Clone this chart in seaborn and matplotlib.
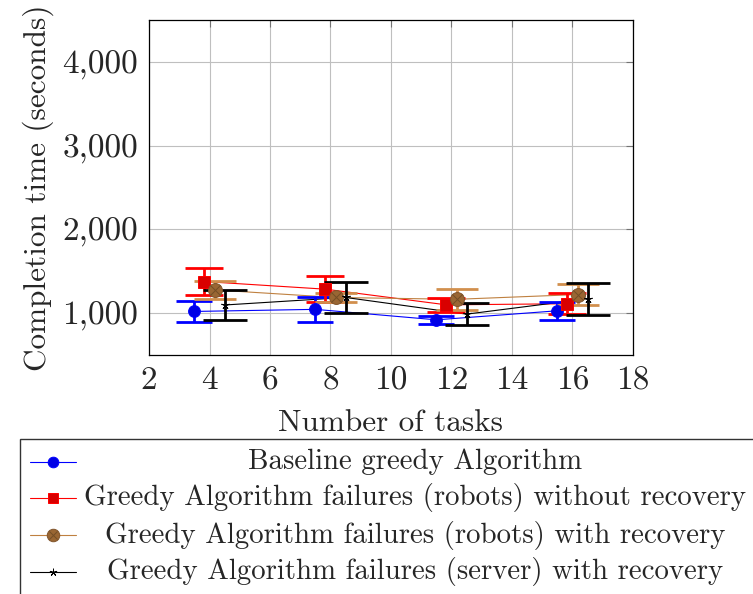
import numpy as np
import pandas as pd
import matplotlib
matplotlib.use("Agg")
import matplotlib.pyplot as plt
import seaborn as sns
from matplotlib.lines import Line2D
from matplotlib.patches import Rectangle

# ---- data ----
tasks = [4, 8, 12, 16]
series_names = [
    "Baseline greedy Algorithm",
    "Greedy Algorithm failures (robots) without recovery",
    "Greedy Algorithm failures (robots) with recovery",
    "Greedy Algorithm failures (server) with recovery",
]
baseline_mean = [1020, 1045, 920, 1028]
baseline_err = [130, 145, 50, 107]
norec_mean = [1377, 1286, 1099, 1112]
norec_err = [160, 155, 80, 125]
robrec_mean = [1277, 1187, 1165, 1222]
robrec_err = [110, 52, 123, 125]
server_mean = [1097, 1187, 988, 1172]
server_err = [177, 180, 127, 193]
x_ticks = [2, 4, 6, 8, 10, 12, 14, 16, 18]
y_ticks = [1000, 2000, 3000, 4000]
y_tick_labels = ["1,000", "2,000", "3,000", "4,000"]

# ---- style ----
sns.set_theme(style="white")
plt.rcParams["font.family"] = ["serif"]
plt.rcParams["font.serif"] = ["cmr10"]
plt.rcParams["mathtext.fontset"] = "cm"
plt.rcParams["axes.formatter.use_mathtext"] = True
FS_LABEL = 22.5
FS_TICK = 24
FS_LEG = 20.8

W, H = 753, 594
fig = plt.figure(figsize=(W / 100, H / 100), dpi=100)
ax = fig.add_axes([149 / W, 1 - 355 / H, (633 - 149) / W, (355 - 20) / H])

brown = (0.75, 0.5, 0.25)
brown_bar = (0.82, 0.56, 0.30)
specs = [
    dict(mean=baseline_mean, err=baseline_err, off=-0.5, color=(0, 0, 1), bar=(0, 0, 1),
         marker="o", ms=8.5, mfc=(0, 0, 0.9), mec=(0, 0, 1), cap=13),
    dict(mean=norec_mean, err=norec_err, off=-0.17, color=(1, 0, 0), bar=(1, 0, 0),
         marker="s", ms=8.5, mfc=(0.85, 0, 0), mec=(1, 0, 0), cap=13.5),
    dict(mean=robrec_mean, err=robrec_err, off=0.17, color=brown, bar=brown_bar,
         marker="o", ms=10, mfc=(0.6, 0.4, 0.2), mec=(0.5, 0.33, 0.17), cap=15),
    dict(mean=server_mean, err=server_err, off=0.5, color="black", bar="black",
         marker=(5, 2, 0), ms=6, mfc="black", mec="black", cap=15.5),
]

for name, s in zip(series_names, specs):
    xs = [t + s["off"] for t in tasks]
    df = pd.DataFrame({"x": xs, "y": s["mean"]})
    sns.lineplot(data=df, x="x", y="y", ax=ax, color=s["color"], lw=0.8,
                 marker=None, zorder=3)
    ax.errorbar(xs, s["mean"], yerr=s["err"], fmt="none", ecolor=s["bar"],
                elinewidth=2.0, capsize=s["cap"], capthick=2.0, zorder=4)
    ax.plot(xs, s["mean"], ls="none", marker=s["marker"], ms=s["ms"],
            mfc=s["mfc"], mec=s["mec"], mew=0.7, zorder=5)
    if name == series_names[2]:
        ax.plot(xs, s["mean"], ls="none", marker="x", ms=6.5, mec=(0.45, 0.3, 0.15),
                mew=0.7, zorder=6)

ax.set_xlim(2, 18)
ax.set_ylim(500, 4500)
ax.set_xticks(x_ticks)
ax.set_xticklabels([str(v) for v in x_ticks], fontsize=FS_TICK)
ax.set_yticks(y_ticks)
ax.set_yticklabels(y_tick_labels, fontsize=FS_TICK)
ax.grid(True, color=(0.75, 0.75, 0.75), lw=0.8)
ax.set_axisbelow(True)
ax.tick_params(direction="in", top=True, right=True, length=5, width=0.8,
               color=(0.45, 0.45, 0.45), pad=8)
for sp in ax.spines.values():
    sp.set_color("black")
    sp.set_linewidth(0.9)
ax.set_xlabel("Number of tasks", fontsize=FS_LABEL, labelpad=10)
ax.set_ylabel("Completion time (seconds)", fontsize=FS_LABEL, labelpad=6)

# ---- legend (manual, centered labels as in pgfplots) ----
fig.patches.append(Rectangle((20 / W, -0.05), 1.0, 1 - 439 / H + 0.05,
                             transform=fig.transFigure, fill=False,
                             edgecolor=(0.2, 0.2, 0.2), lw=1.0))
rows_y = [462, 498, 535, 572]
for name, s, ry in zip(series_names, specs, rows_y):
    yy = 1 - ry / H
    fig.lines.append(Line2D([30 / W, 76 / W], [yy, yy], transform=fig.transFigure,
                            color=s["color"], lw=0.8))
    fig.lines.append(Line2D([53 / W], [yy], transform=fig.transFigure, ls="none",
                            marker=s["marker"], ms=s["ms"] * 0.9, mfc=s["mfc"],
                            mec=s["mec"], mew=0.7))
    if name == series_names[2]:
        fig.lines.append(Line2D([53 / W], [yy], transform=fig.transFigure, ls="none",
                                marker="x", ms=6, mec=(0.45, 0.3, 0.15), mew=0.7))
    fig.text(415 / W, yy, name, ha="center", va="center", fontsize=FS_LEG)

fig.savefig("out.png", dpi=100)
